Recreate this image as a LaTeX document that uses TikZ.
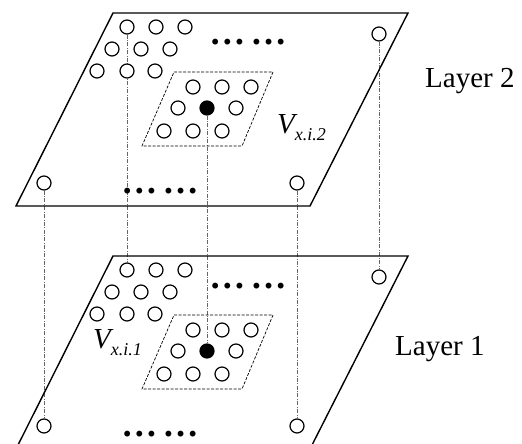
\documentclass[tikz,border=0pt]{standalone}
\usepackage{fontspec}
\setmainfont{Liberation Serif}
\usetikzlibrary{backgrounds}
\begin{document}
\begin{tikzpicture}[x=1pt,y=-1pt,
  hole/.style={circle,draw,line width=1.2pt,fill=white,minimum size=14pt,inner sep=0pt},
  via/.style={hole,fill=black},
  layeredge/.style={line width=1.4pt,line join=miter},
  region/.style={line width=0.7pt,dash pattern=on 3pt off 1.5pt},
  link/.style={line width=0.6pt,black!60,dash pattern=on 4pt off 1.5pt on 0.8pt off 1.5pt},
  lbl/.style={font=\fontsize{29}{34}\selectfont,inner sep=0pt,anchor=base west},
  vlbl/.style={font=\fontsize{29}{34}\selectfont\itshape,inner sep=0pt,anchor=base west},
  dotsl/.style={font=\fontsize{36}{40}\selectfont\bfseries,inner sep=0pt,anchor=base}]
\clip (0,0) rectangle (522,444);
\foreach \L/\dy in {T/0,B/243}{
  \begin{scope}[shift={(0,\dy)}]
    \draw[layeredge] (113,13) -- (408,13) -- (310,206) -- (16,206) -- cycle;
    \draw[region] (174,72) -- (273,72) -- (242,146) -- (142,146) -- cycle;
    \node[hole] (\L-a1) at (127,27) {};
    \node[hole] (\L-a2) at (156,27) {};
    \node[hole] (\L-a3) at (185,27) {};
    \node[hole] (\L-b1) at (112,49) {};
    \node[hole] (\L-b2) at (141,49) {};
    \node[hole] (\L-b3) at (170,49) {};
    \node[hole] (\L-c1) at (97,71) {};
    \node[hole] (\L-c2) at (127,71) {};
    \node[hole] (\L-c3) at (155,71) {};
    \node[hole] (\L-p1) at (193,87) {};
    \node[hole] (\L-p2) at (222,87) {};
    \node[hole] (\L-p3) at (251,87) {};
    \node[hole] (\L-q1) at (178,108) {};
    \node[via]  (\L-q2) at (207,108) {};
    \node[hole] (\L-q3) at (236,108) {};
    \node[hole] (\L-r1) at (164,131) {};
    \node[hole] (\L-r2) at (193,131) {};
    \node[hole] (\L-r3) at (222,131) {};
    \node[hole] (\L-tr) at (379,34) {};
    \node[hole] (\L-bl) at (44,183) {};
    \node[hole] (\L-br) at (297,183) {};
    \node[dotsl] (\L-dt) at (248,45) {…\kern0.15em…};
    \node[dotsl] (\L-db) at (160,193) {…\kern0.15em…};
  \end{scope}
}
\begin{scope}[on background layer]
  \draw[link] (T-a1) -- (B-a1);
  \draw[link] (T-q2) -- (B-q2);
  \draw[link] (T-bl) -- (B-bl);
  \draw[link] (T-br) -- (B-br);
  \draw[link] (T-tr) -- (B-tr);
\end{scope}
\node[vlbl] (v2) at (277,133) {V\raisebox{-7pt}{\fontsize{18}{20}\selectfont x.i.2}};
\node[vlbl] (v1) at (93,348) {V\raisebox{-7pt}{\fontsize{18}{20}\selectfont x.i.1}};
\node[lbl] (l2) at (425,88) {Layer 2};
\node[lbl] (l1) at (395,355) {Layer 1};
\end{tikzpicture}
\end{document}
